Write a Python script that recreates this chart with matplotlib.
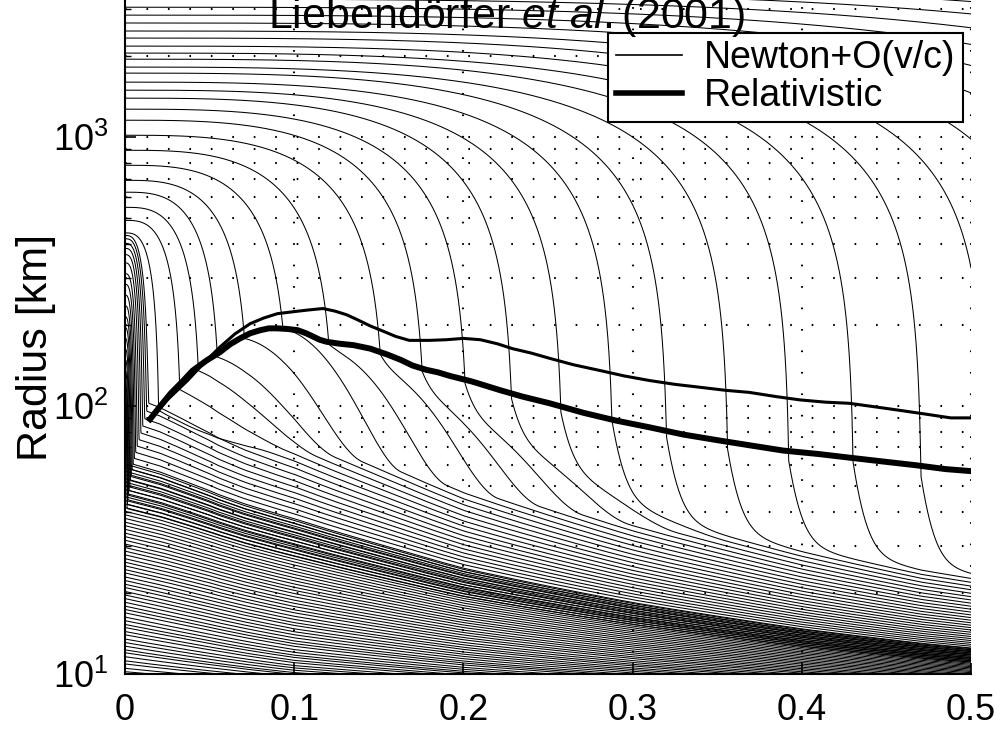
import numpy as np
import matplotlib.pyplot as plt
from matplotlib.lines import Line2D
from matplotlib.ticker import LogLocator, NullFormatter, FixedLocator

plt.rcParams['font.family'] = ['Liberation Sans', 'DejaVu Sans']
plt.rcParams['mathtext.fontset'] = 'custom'
plt.rcParams['mathtext.rm'] = 'Liberation Sans'
plt.rcParams['mathtext.it'] = 'Liberation Sans:italic'

# shock radius [km] against time after bounce [s]
newton_t = [0.015, 0.025, 0.037, 0.047, 0.056, 0.065, 0.074, 0.082, 0.090, 0.100,
            0.108, 0.117, 0.124, 0.131, 0.138, 0.145, 0.152, 0.160, 0.168, 0.180,
            0.190, 0.200, 0.210, 0.220, 0.229, 0.240, 0.251, 0.265, 0.281, 0.295,
            0.310, 0.325, 0.340, 0.355, 0.369, 0.385, 0.399, 0.414, 0.428, 0.443,
            0.458, 0.473, 0.488, 0.500]
newton_r = [89, 105, 124, 145, 165, 185, 202, 212, 220, 224,
            227, 230, 225, 218, 208, 198, 190, 181, 175, 175,
            176, 178, 176, 170, 163, 157, 150, 142, 135, 129,
            124, 120, 117, 114, 112, 108, 105, 103, 102, 99,
            96, 93, 90, 90]
rel_t = [0.0148, 0.020, 0.027, 0.034, 0.040, 0.048, 0.056, 0.062, 0.068, 0.074,
         0.080, 0.085, 0.090, 0.096, 0.102, 0.107, 0.111, 0.115, 0.119, 0.127,
         0.135, 0.145, 0.155, 0.163, 0.170, 0.178, 0.185, 0.192, 0.205, 0.222,
         0.235, 0.251, 0.271, 0.290, 0.310, 0.330, 0.352, 0.370, 0.389, 0.410,
         0.428, 0.447, 0.467, 0.485, 0.500]
rel_r = [89, 98, 111, 123, 135, 147, 158, 169, 178, 186,
         191, 194, 194, 193, 191, 186, 181, 176, 173, 170,
         168, 163, 155, 148, 141, 136, 133, 129, 123, 114,
         108, 102, 94, 88, 83, 78, 74, 71, 68, 66,
         64, 62, 60, 58, 57]

# outer mass shells: radius at bounce [km] and time they fall through [s]
outer_r0 = [4000, 3750, 3500, 3270, 3050, 2850, 2664, 2487, 2341, 2185,
            2058, 1953, 1825, 1733, 1604, 1497, 1398, 1272, 1157, 1017,
            894, 786, 691, 624, 548, 490, 440]
outer_T = [0.90, 0.84, 0.79, 0.74, 0.69, 0.64, 0.595, 0.55, 0.509, 0.471,
           0.431, 0.393, 0.357, 0.321, 0.289, 0.259, 0.230, 0.203, 0.178, 0.154,
           0.124, 0.0975, 0.074, 0.057, 0.0453, 0.0337, 0.0206]

# shells that collapse right after bounce (dark column at the left edge)
col_r0 = [102, 112, 123, 135, 148, 162, 178, 195, 214, 235,
          258, 283, 310, 340, 365, 385, 402, 418, 430]
col_T = [0.0012, 0.0015, 0.0018, 0.0021, 0.0025, 0.0029, 0.0033, 0.0038, 0.0043, 0.0049,
         0.0056, 0.0064, 0.0073, 0.0084, 0.0095, 0.0106, 0.0118, 0.0130, 0.0142]

# shells already below the shock at bounce [km]
core_r0 = [9.6, 9.9, 10.2, 10.5, 10.9, 11.2, 11.6, 12.0, 12.3, 12.7,
           13.1, 13.5, 14.0, 14.4, 14.9, 15.3, 15.8, 16.3, 16.9, 17.4,
           17.9, 18.5, 19.1, 19.7, 20.3, 21.0, 21.6, 22.3, 23.0, 23.8,
           24.5, 25.3, 26.1, 26.9, 27.8, 28.7, 29.6, 30.5, 31.5, 32.5,
           33.5, 34.6, 35.7, 36.8, 38.0, 39.2, 40.4, 41.7, 43.0, 44.4,
           45.8, 47.2, 48.7, 50.3, 51.9, 53.5, 55.2, 57.0, 58.8, 60.6]

# settled layer under the shock: lowest and highest shell radius [km] over time
stack_t = [0.0, 0.05, 0.1, 0.15, 0.2, 0.3, 0.4, 0.5]
stack_top = [110, 102, 88, 70, 56, 40, 30, 23.5]
stack_bot = [9.6, 9.3, 9.0, 8.8, 8.6, 8.3, 8.0, 7.8]
# how strongly the shells crowd towards the bottom of the layer
crowd_t = [0.0, 0.1, 0.5]
crowd = [1.0, 1.3, 1.8]
TOP_SHARE, TOP_POW = 0.3, 6   # sparse upper part of the layer

t = np.linspace(0, 0.5, 4001)
shock_on_t = np.exp(np.interp(t, rel_t, np.log(rel_r), left=np.nan))
lb = np.interp(t, stack_t, np.log(stack_bot))
lt = np.interp(t, stack_t, np.log(stack_top))
gam = np.interp(t, crowd_t, crowd)


def spread(f, g):
    return (1 - TOP_SHARE) * f ** g + TOP_SHARE * f ** TOP_POW


def free_fall(r0, T):
    return r0 * np.clip(1 - (t / T) ** 3, 0, None) ** (2 / 3)


def first_hit(r0, T):
    if T <= rel_t[0]:
        return None
    hit = np.nonzero(free_fall(r0, T) <= shock_on_t)[0]
    return hit[0] if hit.size else None


# order in which shells join the settled layer
n_in = len(core_r0) + len(col_r0)
outer_hits = [first_hit(r0, T) for r0, T in zip(outer_r0, outer_T)]
arrivals = sorted(t[i] for i in outer_hits if i is not None)
count = n_in + np.interp(t, [0.0] + arrivals, np.arange(len(arrivals) + 1))


def stacked(q):
    f = np.clip(q / (count - 1), 0, 1)
    return np.exp(lb + spread(f, gam) * (lt - lb))


fig = plt.figure(figsize=(10.01, 7.32), dpi=100)
ax = fig.add_axes([125 / 1001, 1 - 674 / 732, 846 / 1001, 674 / 732])
kw = dict(color='k', lw=0.75)

f_grid = np.linspace(0, 1, 2001)
g_grid = spread(f_grid, gam[0])
for r0 in core_r0:
    g0 = (np.log(r0) - lb[0]) / (lt[0] - lb[0])
    ax.plot(t, stacked(np.interp(g0, g_grid, f_grid) * (n_in - 1)), **kw)

for k, (r0, T) in enumerate(zip(col_r0, col_T)):
    ff = free_fall(r0, T)
    rs = stacked(len(core_r0) + k)
    ax.plot(t, (ff ** 4 + rs ** 4) ** 0.25, **kw)

order = sorted((i, j) for j, i in enumerate(outer_hits) if i is not None)
rank = {j: n for n, (i, j) in enumerate(order)}
for j, (r0, T) in enumerate(zip(outer_r0, outer_T)):
    ff = free_fall(r0, T)
    i = outer_hits[j]
    if i is None:
        ax.plot(t, ff, **kw)
        continue
    th, r_hit = t[i], ff[i]
    rs = stacked(n_in + rank[j])
    s = np.clip(t - th, 0, None)
    a = np.clip((0.3 - th) / 0.2, 0, 1)
    S = a * 0.5 * (1 + np.cos(np.pi * np.clip(s / 0.07, 0, 1))) + (1 - a) * np.exp(-s / 0.006)
    r = rs + (r_hit - rs[i]) * S
    r[:i] = ff[:i]
    ax.plot(t, r, **kw)

ax.plot(newton_t, newton_r, color='k', lw=2.2, solid_joinstyle='round')
ax.plot(rel_t, rel_r, color='k', lw=4.3, solid_joinstyle='round')

ax.set_yscale('log')
ax.set_xlim(0, 0.5)
ax.set_ylim(10, 3245)
ax.xaxis.set_major_locator(FixedLocator([0, 0.1, 0.2, 0.3, 0.4, 0.5]))
ax.set_xticklabels(['0', '0.1', '0.2', '0.3', '0.4', '0.5'])
ax.yaxis.set_major_locator(LogLocator(base=10))
ax.yaxis.set_minor_locator(LogLocator(base=10, subs=np.arange(2, 10)))
ax.yaxis.set_minor_formatter(NullFormatter())

ax.set_axisbelow(True)
dots = dict(color='k', linestyle=(0, (0.8, 9.5)), linewidth=1.5)
ax.grid(True, which='major', axis='x', **dots)
ax.grid(True, which='both', axis='y', **dots)

ax.tick_params(which='major', direction='in', length=8, width=1.2, labelsize=26)
ax.tick_params(which='minor', direction='in', length=4, width=1.0)
ax.tick_params(axis='x', pad=14)
ax.tick_params(axis='y', pad=12)
for side in ['top', 'right']:
    ax.spines[side].set_visible(False)
for side in ['left', 'bottom']:
    ax.spines[side].set_linewidth(1.5)

ax.set_ylabel('Radius [km]', fontsize=31)
ax.yaxis.set_label_coords(-0.082, 0.485)

fig.text(507 / 1001, 1 - 28 / 732, 'Liebendörfer $\\mathit{et\\ al.}$(2001)',
         ha='center', va='baseline', fontsize=31)

handles = [Line2D([], [], color='k', lw=1.2), Line2D([], [], color='k', lw=4)]
leg = ax.legend(handles, ['Newton+O(v/c)', 'Relativistic'], loc='upper right',
                bbox_to_anchor=(963 / 1001, 1 - 33 / 732), bbox_transform=fig.transFigure,
                fontsize=27, fancybox=False, edgecolor='k', framealpha=1,
                borderpad=0.2, handlelength=1.75, handletextpad=0.6,
                labelspacing=0.05, borderaxespad=0)
leg.get_frame().set_linewidth(1.5)

fig.savefig('out.png', dpi=100, facecolor='white')
